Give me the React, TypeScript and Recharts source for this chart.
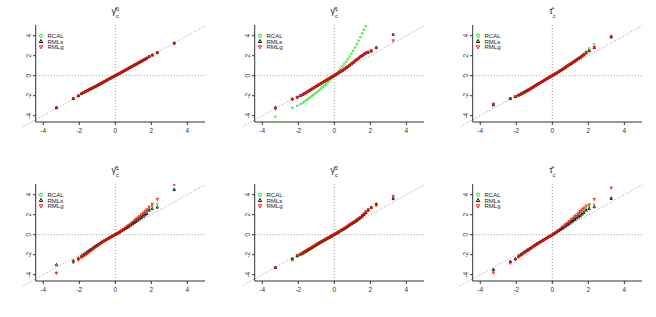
import React from 'react';
import { ScatterChart, Scatter, XAxis, YAxis, ReferenceLine } from 'recharts';

// theoretical quantiles (shared x for every series)
const qx = [-3.27, -2.33, -2.05, -1.88, -1.75, -1.65, -1.55, -1.45, -1.35, -1.25, -1.15, -1.05, -0.95, -0.85, -0.75, -0.65, -0.55, -0.45, -0.35, -0.25, -0.15, -0.05, 0.05, 0.15, 0.25, 0.35, 0.45, 0.55, 0.65, 0.75, 0.85, 0.95, 1.05, 1.15, 1.25, 1.35, 1.45, 1.55, 1.65, 1.75, 1.88, 2.05, 2.33, 3.27];

const xTicks = [-4, -2, 0, 2, 4];
const yTicks = [-4, -2, 0, 2, 4];
const seriesNames = ['RCAL', 'RMLs', 'RMLg'];

const titleSym = ['γ̂', 'γ̂', 'τ̂', 'γ̂', 'γ̂', 'τ̂'];
const titleSup = ['0', '1', '', '1', '2', ''];
const titleSub = ['c', 'c', 'c', 'c', 'c', 'c'];

// panel 1
const p1Rcal = [-3.22, -2.3, -2.02, -1.81, -1.68, -1.58, -1.49, -1.4, -1.31, -1.22, -1.12, -1.03, -0.93, -0.84, -0.74, -0.64, -0.54, -0.44, -0.34, -0.24, -0.14, -0.05, 0.05, 0.15, 0.25, 0.35, 0.45, 0.55, 0.65, 0.75, 0.85, 0.95, 1.05, 1.15, 1.25, 1.35, 1.45, 1.55, 1.65, 1.76, 1.91, 2.07, 2.32, 3.26];
const p1Rmls = [-3.21, -2.29, -2.01, -1.8, -1.67, -1.57, -1.48, -1.39, -1.3, -1.21, -1.11, -1.02, -0.92, -0.83, -0.73, -0.63, -0.53, -0.43, -0.33, -0.23, -0.14, -0.04, 0.05, 0.15, 0.25, 0.35, 0.45, 0.55, 0.65, 0.75, 0.85, 0.95, 1.05, 1.15, 1.25, 1.35, 1.45, 1.55, 1.65, 1.75, 1.9, 2.06, 2.31, 3.25];
const p1Rmlg = [-3.2, -2.28, -2.0, -1.8, -1.67, -1.57, -1.48, -1.39, -1.3, -1.21, -1.12, -1.02, -0.93, -0.83, -0.73, -0.63, -0.53, -0.43, -0.33, -0.24, -0.14, -0.04, 0.05, 0.15, 0.25, 0.35, 0.45, 0.55, 0.65, 0.75, 0.85, 0.95, 1.05, 1.15, 1.25, 1.35, 1.45, 1.55, 1.65, 1.75, 1.9, 2.05, 2.3, 3.24];

// panel 2 (RCAL leaves the plot above x = 1.75)
const p2Rcal = [-4.1, -3.2, -3.0, -2.85, -2.7, -2.58, -2.45, -2.32, -2.18, -2.04, -1.9, -1.76, -1.62, -1.47, -1.31, -1.15, -0.99, -0.82, -0.65, -0.47, -0.29, -0.1, 0.09, 0.29, 0.5, 0.71, 0.93, 1.16, 1.4, 1.65, 1.92, 2.2, 2.5, 2.82, 3.15, 3.5, 3.86, 4.23, 4.6, 4.97, null, null, null, null];
const p2Rmls = [-3.17, -2.33, -2.15, -1.99, -1.87, -1.77, -1.66, -1.55, -1.44, -1.33, -1.22, -1.11, -1.0, -0.89, -0.78, -0.67, -0.56, -0.45, -0.34, -0.24, -0.13, -0.03, 0.07, 0.18, 0.29, 0.4, 0.52, 0.65, 0.78, 0.91, 1.05, 1.19, 1.33, 1.47, 1.61, 1.75, 1.89, 2.02, 2.15, 2.27, 2.33, 2.46, 2.82, 4.13];
const p2Rmlg = [-3.33, -2.37, -2.17, -2.0, -1.88, -1.78, -1.67, -1.56, -1.45, -1.34, -1.23, -1.12, -1.01, -0.9, -0.79, -0.68, -0.57, -0.46, -0.35, -0.24, -0.13, -0.03, 0.07, 0.18, 0.29, 0.41, 0.53, 0.66, 0.79, 0.92, 1.06, 1.2, 1.34, 1.48, 1.62, 1.76, 1.9, 2.03, 2.16, 2.28, 2.38, 2.5, 2.78, 3.5];

// panel 3
const p3Rcal = [-2.79, -2.26, -2.06, -1.93, -1.83, -1.73, -1.63, -1.53, -1.43, -1.33, -1.22, -1.11, -1.0, -0.89, -0.78, -0.67, -0.56, -0.45, -0.35, -0.24, -0.14, -0.04, 0.06, 0.17, 0.28, 0.4, 0.52, 0.64, 0.76, 0.89, 1.01, 1.13, 1.26, 1.38, 1.51, 1.63, 1.76, 1.89, 2.02, 2.18, 2.42, 2.73, 3.13, 3.95];
const p3Rmls = [-2.92, -2.3, -2.1, -1.96, -1.85, -1.75, -1.65, -1.55, -1.45, -1.34, -1.23, -1.12, -1.01, -0.9, -0.79, -0.68, -0.57, -0.46, -0.35, -0.25, -0.14, -0.04, 0.06, 0.17, 0.28, 0.39, 0.5, 0.62, 0.74, 0.86, 0.98, 1.1, 1.22, 1.34, 1.46, 1.58, 1.7, 1.82, 1.95, 2.08, 2.27, 2.48, 2.8, 3.86];
const p3Rmlg = [-2.86, -2.28, -2.08, -1.95, -1.84, -1.74, -1.64, -1.54, -1.44, -1.34, -1.23, -1.12, -1.01, -0.9, -0.79, -0.68, -0.57, -0.46, -0.35, -0.25, -0.14, -0.04, 0.06, 0.17, 0.28, 0.39, 0.51, 0.63, 0.75, 0.87, 0.99, 1.11, 1.23, 1.35, 1.47, 1.59, 1.71, 1.83, 1.96, 2.1, 2.3, 2.5, 2.83, 3.9];

// panel 4
const p4Rcal = [-3.8, -2.8, -2.55, -2.25, -2.07, -1.95, -1.81, -1.67, -1.54, -1.41, -1.28, -1.15, -1.03, -0.91, -0.79, -0.68, -0.56, -0.45, -0.35, -0.24, -0.14, -0.04, 0.06, 0.17, 0.28, 0.4, 0.52, 0.64, 0.77, 0.9, 1.03, 1.17, 1.31, 1.45, 1.6, 1.75, 1.9, 2.05, 2.2, 2.36, 2.6, 2.87, 3.08, 4.55];
const p4Rmls = [-3.0, -2.6, -2.35, -2.12, -1.97, -1.85, -1.72, -1.59, -1.46, -1.33, -1.2, -1.08, -0.96, -0.85, -0.74, -0.63, -0.53, -0.43, -0.33, -0.23, -0.13, -0.03, 0.06, 0.16, 0.26, 0.37, 0.48, 0.59, 0.71, 0.83, 0.95, 1.07, 1.19, 1.32, 1.45, 1.58, 1.71, 1.84, 1.97, 2.1, 2.44, 2.6, 2.74, 4.5];
const p4Rmlg = [-3.85, -2.74, -2.47, -2.3, -2.14, -2.02, -1.88, -1.74, -1.6, -1.46, -1.32, -1.19, -1.06, -0.93, -0.81, -0.69, -0.57, -0.46, -0.35, -0.24, -0.14, -0.04, 0.06, 0.17, 0.29, 0.41, 0.54, 0.67, 0.81, 0.95, 1.09, 1.24, 1.39, 1.54, 1.69, 1.85, 2.0, 2.16, 2.32, 2.5, 2.78, 3.04, 3.55, 5.0];

// panel 5
const p5Rcal = [-3.32, -2.57, -2.2, -2.05, -1.95, -1.84, -1.73, -1.62, -1.5, -1.38, -1.26, -1.15, -1.03, -0.92, -0.81, -0.71, -0.61, -0.51, -0.41, -0.31, -0.21, -0.11, 0.0, 0.11, 0.22, 0.33, 0.44, 0.55, 0.66, 0.78, 0.9, 1.02, 1.14, 1.26, 1.38, 1.51, 1.64, 1.8, 1.97, 2.17, 2.42, 2.75, 3.1, 3.7];
const p5Rmls = [-3.28, -2.42, -2.1, -1.95, -1.83, -1.72, -1.61, -1.5, -1.39, -1.28, -1.17, -1.06, -0.95, -0.84, -0.73, -0.63, -0.53, -0.43, -0.33, -0.23, -0.13, -0.03, 0.07, 0.17, 0.28, 0.39, 0.5, 0.61, 0.73, 0.85, 0.97, 1.09, 1.21, 1.33, 1.45, 1.58, 1.71, 1.87, 2.03, 2.22, 2.46, 2.72, 3.05, 3.6];
const p5Rmlg = [-3.3, -2.4, -2.07, -1.93, -1.8, -1.69, -1.58, -1.47, -1.36, -1.25, -1.14, -1.03, -0.92, -0.81, -0.71, -0.61, -0.51, -0.41, -0.31, -0.21, -0.11, -0.01, 0.09, 0.2, 0.31, 0.42, 0.53, 0.64, 0.76, 0.88, 1.0, 1.12, 1.24, 1.36, 1.49, 1.62, 1.75, 1.93, 2.1, 2.3, 2.5, 2.7, 2.93, 3.83];

// panel 6
const p6Rcal = [-3.55, -2.72, -2.45, -2.18, -2.02, -1.9, -1.78, -1.66, -1.53, -1.41, -1.29, -1.17, -1.05, -0.93, -0.82, -0.71, -0.6, -0.49, -0.38, -0.27, -0.17, -0.06, 0.05, 0.16, 0.28, 0.41, 0.54, 0.67, 0.81, 0.95, 1.09, 1.23, 1.38, 1.53, 1.68, 1.83, 1.98, 2.14, 2.3, 2.45, 2.6, 2.8, 3.04, 3.7];
const p6Rmls = [-3.48, -2.68, -2.41, -2.14, -1.98, -1.86, -1.74, -1.62, -1.5, -1.38, -1.26, -1.14, -1.02, -0.91, -0.8, -0.69, -0.58, -0.47, -0.36, -0.26, -0.16, -0.06, 0.05, 0.16, 0.27, 0.39, 0.51, 0.63, 0.75, 0.88, 1.0, 1.13, 1.26, 1.39, 1.52, 1.65, 1.78, 1.91, 2.05, 2.2, 2.44, 2.6, 2.78, 3.61];
const p6Rmlg = [-3.81, -2.84, -2.5, -2.25, -2.08, -1.95, -1.82, -1.69, -1.56, -1.44, -1.32, -1.2, -1.08, -0.96, -0.84, -0.73, -0.62, -0.51, -0.4, -0.29, -0.18, -0.07, 0.05, 0.17, 0.3, 0.44, 0.58, 0.73, 0.88, 1.03, 1.18, 1.34, 1.5, 1.66, 1.82, 1.99, 2.16, 2.33, 2.5, 2.68, 2.88, 3.0, 3.55, 4.68];

const panels = [
  [p1Rcal, p1Rmls, p1Rmlg],
  [p2Rcal, p2Rmls, p2Rmlg],
  [p3Rcal, p3Rmls, p3Rmlg],
  [p4Rcal, p4Rmls, p4Rmlg],
  [p5Rcal, p5Rmls, p5Rmlg],
  [p6Rcal, p6Rmls, p6Rmlg],
];

const PW = 219;
const PH = 159;
const X_DOMAIN = [-4.42, 4.98];
const Y_DOMAIN = [-4.63, 5.07];
const PLOT_LEFT = 35.7;
const PLOT_W = 169.3;
const FONT = '"Liberation Sans", Arial, sans-serif';
const GREEN = '#00e000';
const AXIS = '#333';

const panelLeft = [0, 219, 437, 0, 219, 437];
const panelTop = [0, 0, 0, 159, 159, 159];

function toPoints(ys) {
  return qx.map((x, i) => ({ x, y: ys[i] })).filter((d) => d.y !== null);
}

const circleShape = (props) => (
  <circle cx={props.cx} cy={props.cy} r={0.9} fill="none" stroke={GREEN} strokeWidth={0.8} />
);
const triShape = (props) => (
  <path
    d={`M${props.cx},${props.cy - 1.4}L${props.cx + 1.2},${props.cy + 0.9}L${props.cx - 1.2},${props.cy + 0.9}Z`}
    fill="none"
    stroke="#000"
    strokeWidth={0.8}
  />
);
const invTriShape = (props) => (
  <path
    d={`M${props.cx},${props.cy + 1.4}L${props.cx + 1.2},${props.cy - 0.9}L${props.cx - 1.2},${props.cy - 0.9}Z`}
    fill="none"
    stroke="#ff0000"
    strokeWidth={0.8}
  />
);

function YTick({ x, y, payload }) {
  return (
    <text
      x={x}
      y={y}
      transform={`rotate(-90 ${x} ${y})`}
      textAnchor="middle"
      fontSize={6.5}
      fontFamily={FONT}
      fill={AXIS}
    >
      {payload.value}
    </text>
  );
}

function Overlay({ idx }) {
  const x0 = PLOT_LEFT + ((0 - X_DOMAIN[0]) / (X_DOMAIN[1] - X_DOMAIN[0])) * PLOT_W;
  const rows = [35.7, 41.3, 47];
  return (
    <svg
      width={PW}
      height={PH}
      style={{ position: 'absolute', left: 0, top: 0, pointerEvents: 'none' }}
    >
      <text x={x0} y={14} textAnchor="middle" fontSize={9} fontFamily={FONT} fill="#222">
        {titleSym[idx]}
        <tspan fontSize={5.5} dy={-3.5}>{titleSup[idx]}</tspan>
        <tspan fontSize={5.5} dx={titleSup[idx] ? -3 : 0} dy={titleSup[idx] ? 7 : 3.5}>
          {titleSub[idx]}
        </tspan>
      </text>
      {seriesNames.map((name, i) => {
        const cy = rows[i];
        const cx = 41;
        return (
          <g key={name}>
            {i === 0 && <circle cx={cx} cy={cy} r={1.5} fill="none" stroke={GREEN} strokeWidth={0.9} />}
            {i === 1 && (
              <path d={`M${cx},${cy - 1.8}L${cx + 1.7},${cy + 1.2}L${cx - 1.7},${cy + 1.2}Z`} fill="none" stroke="#000" strokeWidth={0.9} />
            )}
            {i === 2 && (
              <path d={`M${cx},${cy + 1.8}L${cx + 1.7},${cy - 1.2}L${cx - 1.7},${cy - 1.2}Z`} fill="none" stroke="#ff0000" strokeWidth={0.9} />
            )}
            <text x={47.5} y={cy + 2.2} fontSize={6} fontFamily={FONT} fill="#222">
              {name}
            </text>
          </g>
        );
      })}
    </svg>
  );
}

function Panel({ idx }) {
  const [rcal, rmls, rmlg] = panels[idx];
  return (
    <div style={{ position: 'absolute', left: panelLeft[idx], top: panelTop[idx], width: PW, height: PH }}>
      <ScatterChart width={PW} height={PH} margin={{ top: 25, right: 14, bottom: 0, left: 0 }}>
        <XAxis
          type="number"
          dataKey="x"
          domain={X_DOMAIN}
          allowDataOverflow
          ticks={xTicks}
          interval={0}
          height={37}
          tickSize={3}
          tickMargin={3}
          stroke={AXIS}
          tick={{ fontSize: 6.5, fontFamily: FONT, fill: AXIS }}
        />
        <YAxis
          type="number"
          dataKey="y"
          domain={Y_DOMAIN}
          allowDataOverflow
          ticks={yTicks}
          interval={0}
          width={PLOT_LEFT}
          tickSize={2.7}
          tickMargin={1.5}
          stroke={AXIS}
          tick={<YTick />}
        />
        <ReferenceLine x={0} stroke="#999" strokeDasharray="1 2" />
        <ReferenceLine y={0} stroke="#999" strokeDasharray="1 2" />
        <ReferenceLine
          segment={[{ x: -5.1, y: -5.1 }, { x: 4.98, y: 4.98 }]}
          stroke="#999"
          strokeDasharray="1 2"
          ifOverflow="visible"
        />
        <Scatter name="RCAL" data={toPoints(rcal)} shape={circleShape} isAnimationActive={false} />
        <Scatter name="RMLs" data={toPoints(rmls)} shape={triShape} isAnimationActive={false} />
        <Scatter name="RMLg" data={toPoints(rmlg)} shape={invTriShape} isAnimationActive={false} />
      </ScatterChart>
      <Overlay idx={idx} />
    </div>
  );
}

export default function App() {
  return (
    <div style={{ position: 'absolute', left: 0, top: 0, width: 656, height: 317, background: '#fff' }}>
      {panels.map((_, i) => (
        <Panel key={i} idx={i} />
      ))}
    </div>
  );
}
